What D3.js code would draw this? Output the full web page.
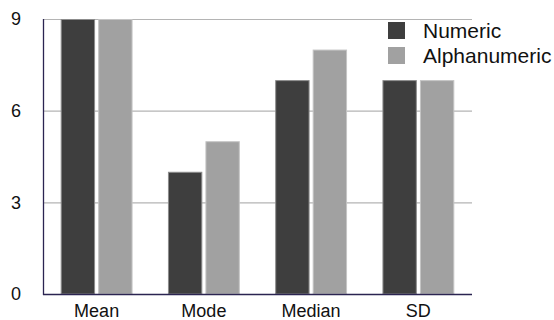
<!DOCTYPE html>
<html>
<head>
<meta charset="utf-8">
<script src="https://cdn.jsdelivr.net/npm/d3@7"></script>
<style>
  html, body { margin: 0; padding: 0; background: #fff; }
  svg { display: block; font-family: "Liberation Sans", Arial, Helvetica, sans-serif; }
</style>
</head>
<body>
<svg id="chart" width="554" height="320"></svg>
<script>
const categories = ["Mean", "Mode", "Median", "SD"];
const seriesNames = ["Numeric", "Alphanumeric"];
const numericValues = [9, 4, 7, 7];
const alphanumericValues = [9, 5, 8, 7];
const yTicks = [0, 3, 6, 9];

const colors = ["#3e3e3e", "#a1a1a1"];
const strokes = ["#8c8c8c", "#c4c4c4"];

const svg = d3.select("#chart");
const mLeft = 43, mRight = 472, mTop = 19, mBottom = 294;

const x0 = d3.scaleBand().domain(categories).range([mLeft, mRight]).paddingInner(0.33).paddingOuter(0.165);
const x1 = d3.scaleBand().domain(seriesNames).range([0, x0.bandwidth()]).paddingInner(0.083);
const y = d3.scaleLinear().domain([0, 9]).range([mBottom, mTop]);

// gridlines
svg.append("g").selectAll("line").data(yTicks.filter(t => t > 0)).join("line")
  .attr("x1", mLeft).attr("x2", mRight)
  .attr("y1", d => y(d) + 0.5).attr("y2", d => y(d) + 0.5)
  .attr("stroke", "#b4b4b4").attr("stroke-width", 1.2);

// bars
const rows = categories.map((c, i) => ({ cat: c, vals: [numericValues[i], alphanumericValues[i]] }));
const g = svg.append("g").selectAll("g").data(rows).join("g")
  .attr("transform", d => `translate(${x0(d.cat)},0)`);
g.selectAll("rect").data(d => d.vals.map((v, j) => ({ s: seriesNames[j], v, j }))).join("rect")
  .attr("x", d => x1(d.s) + 0.5)
  .attr("y", d => y(d.v) + 0.5)
  .attr("width", x1.bandwidth() - 1)
  .attr("height", d => y(0) - y(d.v) - 0.5)
  .attr("fill", d => colors[d.j])
  .attr("stroke", d => strokes[d.j])
  .attr("stroke-width", 1);

// axes lines
const axisColor = "#2b2451";
svg.append("line").attr("x1", mLeft + 0.5).attr("x2", mLeft + 0.5).attr("y1", mTop).attr("y2", mBottom + 1)
  .attr("stroke", axisColor).attr("stroke-width", 1.3);
svg.append("line").attr("x1", mLeft).attr("x2", mRight).attr("y1", mBottom + 0.5).attr("y2", mBottom + 0.5)
  .attr("stroke", axisColor).attr("stroke-width", 1.3);

// y tick labels
svg.append("g").selectAll("text").data(yTicks).join("text")
  .attr("x", 16).attr("y", d => y(d))
  .attr("dy", "0.36em")
  .attr("text-anchor", "middle")
  .attr("font-size", 18).attr("fill", "#111")
  .text(d => d);

// x labels
svg.append("g").selectAll("text").data(categories).join("text")
  .attr("x", d => x0(d) + x0.bandwidth() / 2)
  .attr("y", 317)
  .attr("text-anchor", "middle")
  .attr("font-size", 18).attr("fill", "#111")
  .text(d => d);

// legend
const lg = svg.append("g");
seriesNames.forEach((s, i) => {
  lg.append("rect").attr("x", 388).attr("y", 22 + i * 25).attr("width", 17).attr("height", 17)
    .attr("fill", colors[i]);
  lg.append("text").attr("x", 423).attr("y", 38 + i * 25)
    .attr("font-size", 21).attr("fill", "#111").text(s);
});
</script>
</body>
</html>
